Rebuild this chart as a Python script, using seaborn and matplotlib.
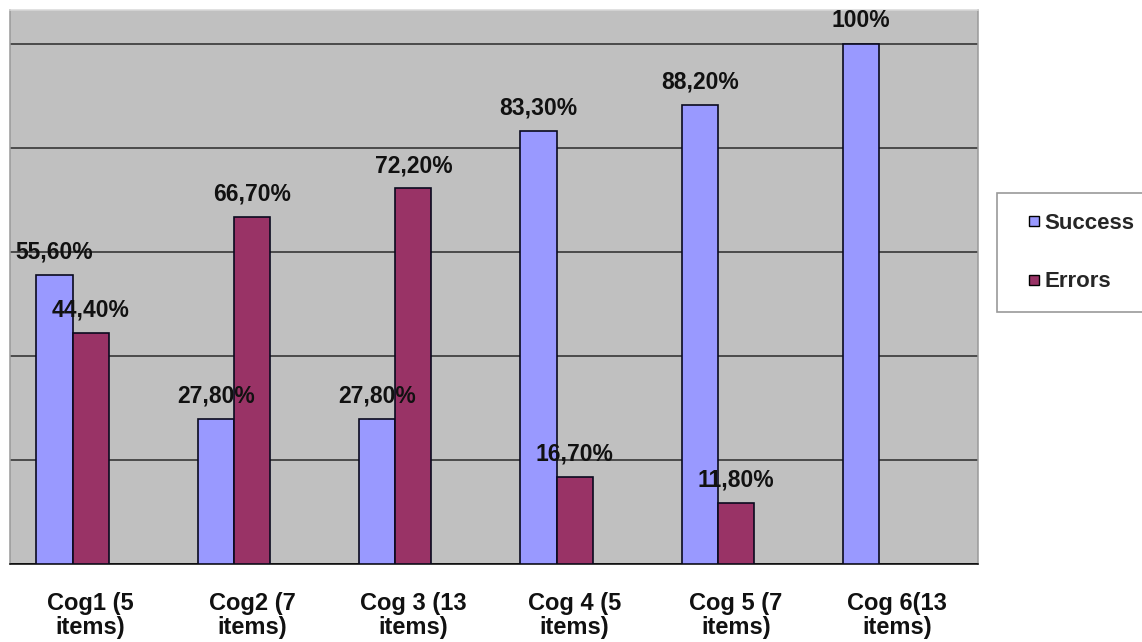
import matplotlib
matplotlib.use("Agg")
import matplotlib.pyplot as plt
from matplotlib.lines import Line2D
import numpy as np
import pandas as pd
import seaborn as sns

# Categories and series values (percent)
categories = ["Cog1 (5\nitems)", "Cog2 (7\nitems)", "Cog 3 (13\nitems)",
              "Cog 4 (5\nitems)", "Cog 5 (7\nitems)", "Cog 6(13\nitems)"]
success = [55.6, 27.8, 27.8, 83.3, 88.2, 100.0]
errors = [44.4, 66.7, 72.2, 16.7, 11.8, None]
success_labels = ["55,60%", "27,80%", "27,80%", "83,30%", "88,20%", "100%"]
error_labels = ["44,40%", "66,70%", "72,20%", "16,70%", "11,80%", None]
series = ["Success", "Errors"]
colors = {"Success": "#9999FF", "Errors": "#993366", "_slot": "#FFFFFF"}

rows = []
for i, cat in enumerate(categories):
    rows.append({"cat": cat, "series": "Success", "value": success[i]})
    if errors[i] is not None:
        rows.append({"cat": cat, "series": "Errors", "value": errors[i]})
df = pd.DataFrame(rows)

sns.set_theme(style="white")
plt.rcParams["font.family"] = ["Liberation Sans", "DejaVu Sans"]
plt.rcParams["font.weight"] = "bold"

W, H = 1142, 642
fig = plt.figure(figsize=(W / 100, H / 100), dpi=100, facecolor="white")
ax = fig.add_axes([10 / W, (H - 564) / H, (978 - 10) / W, (564 - 10) / H])
ax.set_facecolor("#C0C0C0")

# three bar slots per group (third one left empty)
sns.barplot(data=df, x="cat", y="value", hue="series",
            order=categories, hue_order=["Success", "Errors", "_slot"],
            palette=colors, width=0.672, errorbar=None, legend=False,
            edgecolor="#0a0a1e", linewidth=1.2, saturation=1, ax=ax, zorder=3)

ax.set_xlim(-0.5, len(categories) - 0.5)
ax.set_ylim(0, 106.5)
ax.set_yticks([0, 20, 40, 60, 80, 100])
ax.set_yticklabels([])
ax.tick_params(axis="y", length=0)
ax.yaxis.grid(True, color="#2a2a2a", linewidth=1.1, zorder=0)
ax.xaxis.grid(False)
ax.set_axisbelow(True)
ax.set_xlabel("")
ax.set_ylabel("")

ax.set_xticks(range(len(categories)))
ax.set_xticklabels(categories, fontsize=17, fontweight="bold",
                   linespacing=1.05, color="#111111")
ax.tick_params(axis="x", which="major", length=0, pad=20)
ax.set_xticks(np.arange(-0.5, len(categories), 1.0), minor=True)
ax.tick_params(axis="x", which="minor", length=5, width=1.0,
               color="black", direction="out")

for side, col in [("left", "#9a9a9a"), ("right", "#9a9a9a"),
                  ("top", "#d8d8d8"), ("bottom", "black")]:
    ax.spines[side].set_visible(True)
    ax.spines[side].set_color(col)
    ax.spines[side].set_linewidth(1.1)

# value labels above each bar
bw = 0.672 / 3
for i in range(len(categories)):
    ax.annotate(success_labels[i], (i - bw, success[i]),
                xytext=(0, 16.5), textcoords="offset points",
                ha="center", va="center", fontsize=16.5,
                fontweight="bold", color="#111111", zorder=5)
    if errors[i] is not None:
        ax.annotate(error_labels[i], (i, errors[i]),
                    xytext=(0, 16.5), textcoords="offset points",
                    ha="center", va="center", fontsize=16.5,
                    fontweight="bold", color="#111111", zorder=5)

handles = [Line2D([], [], linestyle="none", marker="s", markersize=7.5,
                  markerfacecolor=colors[s], markeredgecolor="black",
                  markeredgewidth=1.0) for s in series]
leg = fig.legend(handles, series, loc="upper left",
                 bbox_to_anchor=(997 / W, 1 - 193 / H),
                 prop={"weight": "bold", "size": 16},
                 handlelength=1.55, handletextpad=-0.3,
                 labelspacing=1.68, borderpad=0.9, borderaxespad=0,
                 fancybox=False, frameon=True)
leg.get_frame().set_edgecolor("#808080")
leg.get_frame().set_linewidth(1.2)

fig.savefig("out.png", dpi=100, facecolor="white")
